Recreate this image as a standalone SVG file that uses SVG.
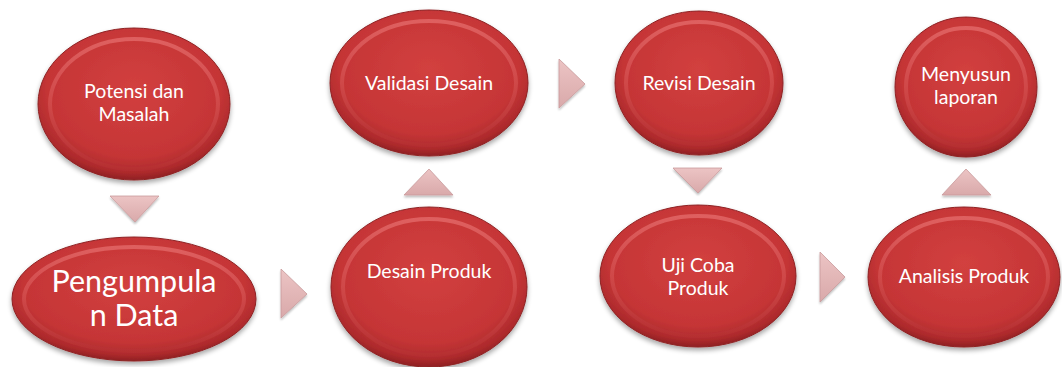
<svg xmlns="http://www.w3.org/2000/svg" width="1062" height="367" viewBox="0 0 1062 367">
  <style>
    .node { fill: url(#redFill); stroke: #8e2224; stroke-width: 1; filter: url(#shadow); }
    .bevel { fill: none; stroke: url(#bevelStroke); stroke-width: 4; opacity: 0.55; }
    .label { fill: #ffffff; font-family: Lato, "Open Sans", sans-serif; font-size: 19.5px; text-anchor: middle; }
    .big { font-size: 30.5px; }
    .arrow { fill: url(#arrowFill); stroke: #c99b9c; stroke-width: 0.8; filter: url(#arrowShadow); }
  </style>
  <defs>
    <radialGradient id="redFill" cx="0.5" cy="0.4" r="0.6">
      <stop offset="0" stop-color="#d2403f"/>
      <stop offset="0.75" stop-color="#c53536"/>
      <stop offset="0.92" stop-color="#ad2a2c"/>
      <stop offset="1" stop-color="#8f2023"/>
    </radialGradient>
    <linearGradient id="bevelStroke" x1="0" y1="0" x2="0" y2="1">
      <stop offset="0" stop-color="#f08080"/>
      <stop offset="0.5" stop-color="#d85858"/>
      <stop offset="1" stop-color="#b83234"/>
    </linearGradient>
    <linearGradient id="arrowFill" x1="0" y1="0" x2="0" y2="1">
      <stop offset="0" stop-color="#ecc4c4"/>
      <stop offset="1" stop-color="#d9a9aa"/>
    </linearGradient>
    <filter id="shadow" x="-10%" y="-10%" width="120%" height="125%">
      <feGaussianBlur in="SourceAlpha" stdDeviation="2.5"/>
      <feOffset dx="0" dy="3" result="b"/>
      <feComponentTransfer><feFuncA type="linear" slope="0.35"/></feComponentTransfer>
      <feMerge><feMergeNode/><feMergeNode in="SourceGraphic"/></feMerge>
    </filter>
    <filter id="arrowShadow" x="-20%" y="-20%" width="140%" height="150%">
      <feGaussianBlur in="SourceAlpha" stdDeviation="1.2"/>
      <feOffset dx="0" dy="1.5"/>
      <feComponentTransfer><feFuncA type="linear" slope="0.25"/></feComponentTransfer>
      <feMerge><feMergeNode/><feMergeNode in="SourceGraphic"/></feMerge>
    </filter>
  </defs>

  <!-- flow arrows between steps -->
  <g id="connectors">
    <polygon class="arrow" points="110,196 159,196 135,222"/>
    <polygon class="arrow" points="281,269 307,294 281,318"/>
    <polygon class="arrow" points="404,195 453,195 429,169"/>
    <polygon class="arrow" points="559,59 585,84 559,108"/>
    <polygon class="arrow" points="673,168 722,168 698,193"/>
    <polygon class="arrow" points="820,252 845,277 820,302"/>
    <polygon class="arrow" points="942,195 991,195 966,169"/>
  </g>

  <g id="potensi-masalah">
    <ellipse class="node" cx="134" cy="104" rx="96" ry="76"/>
    <ellipse class="bevel" cx="134" cy="104" rx="84" ry="65"/>
    <text class="label" x="134" y="98">Potensi dan</text>
    <text class="label" x="134" y="121">Masalah</text>
  </g>

  <g id="pengumpulan-data">
    <ellipse class="node" cx="134" cy="299" rx="122" ry="62"/>
    <ellipse class="bevel" cx="134" cy="299" rx="110" ry="52"/>
    <text class="label big" x="134" y="292">Pengumpula</text>
    <text class="label big" x="134" y="326">n Data</text>
  </g>

  <g id="desain-produk">
    <ellipse class="node" cx="429" cy="287" rx="98" ry="80"/>
    <ellipse class="bevel" cx="429" cy="287" rx="86" ry="68"/>
    <text class="label" x="429" y="278">Desain Produk</text>
  </g>

  <g id="validasi-desain">
    <ellipse class="node" cx="429" cy="83" rx="99" ry="73"/>
    <ellipse class="bevel" cx="429" cy="83" rx="87" ry="62"/>
    <text class="label" x="429" y="90">Validasi Desain</text>
  </g>

  <g id="revisi-desain">
    <ellipse class="node" cx="699" cy="83" rx="84" ry="72"/>
    <ellipse class="bevel" cx="699" cy="83" rx="73" ry="61"/>
    <text class="label" x="699" y="90">Revisi Desain</text>
  </g>

  <g id="uji-coba-produk">
    <ellipse class="node" cx="698" cy="276" rx="98" ry="71"/>
    <ellipse class="bevel" cx="698" cy="276" rx="86" ry="60"/>
    <text class="label" x="698" y="272">Uji Coba</text>
    <text class="label" x="698" y="295">Produk</text>
  </g>

  <g id="analisis-produk">
    <ellipse class="node" cx="964" cy="277" rx="96" ry="70"/>
    <ellipse class="bevel" cx="964" cy="277" rx="84" ry="59"/>
    <text class="label" x="964" y="283">Analisis Produk</text>
  </g>

  <g id="menyusun-laporan">
    <ellipse class="node" cx="966" cy="87" rx="71" ry="70"/>
    <ellipse class="bevel" cx="966" cy="87" rx="60" ry="59"/>
    <text class="label" x="966" y="81">Menyusun</text>
    <text class="label" x="966" y="104">laporan</text>
  </g>
</svg>
